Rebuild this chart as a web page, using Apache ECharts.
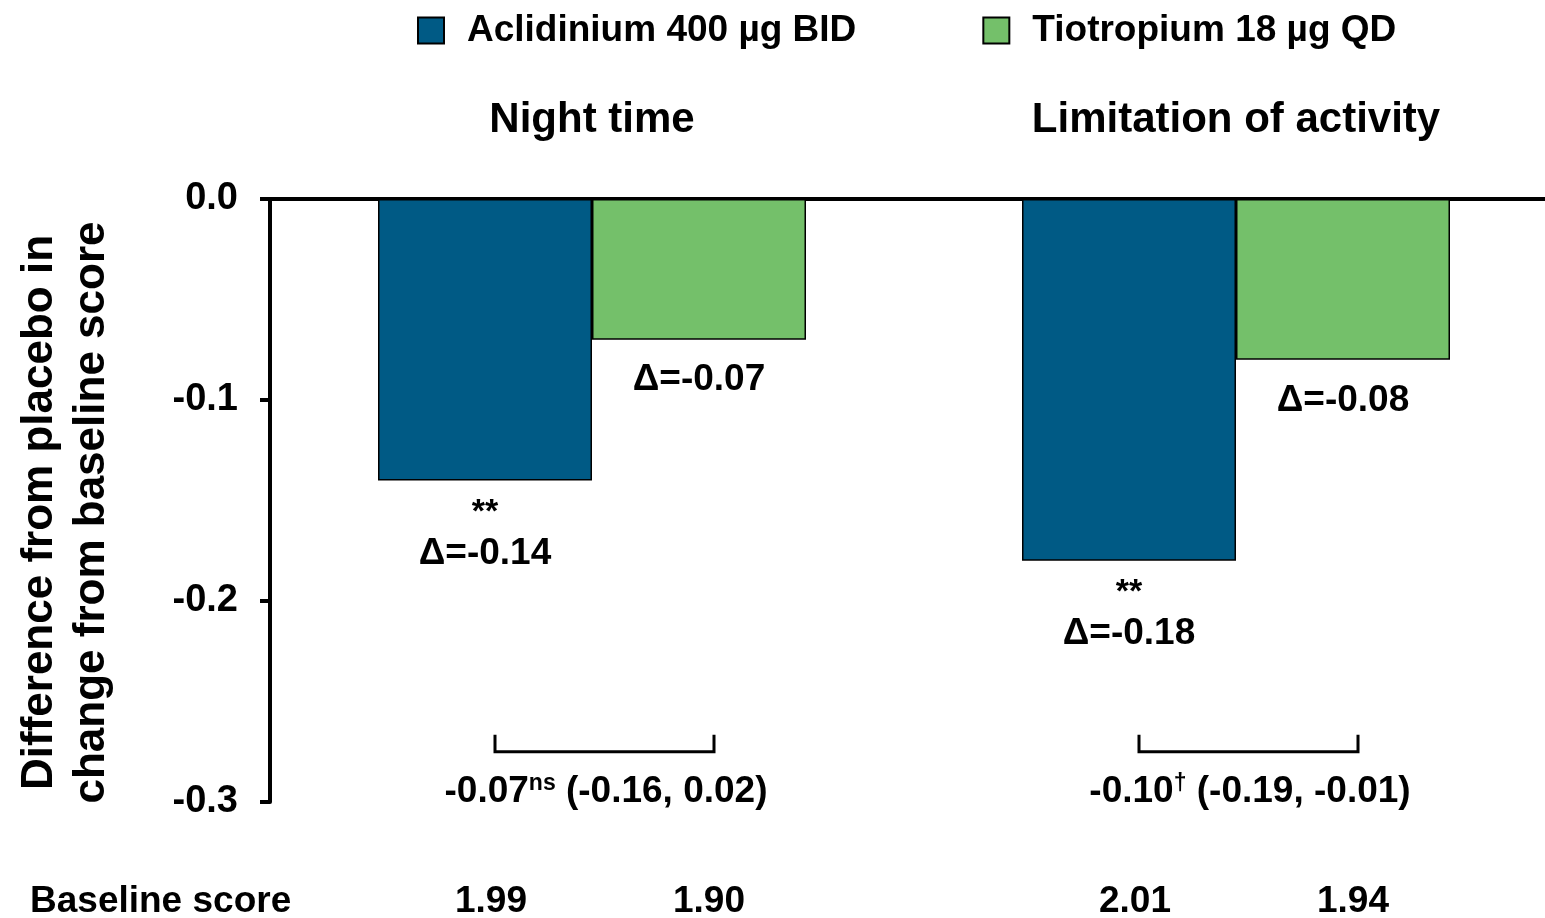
<!DOCTYPE html>
<html>
<head>
<meta charset="utf-8">
<script src="https://cdn.jsdelivr.net/npm/echarts@6/dist/echarts.min.js"></script>
<style>
html,body{margin:0;padding:0;background:#fff;}
#main{width:1545px;height:918px;}
</style>
</head>
<body>
<div id="main"></div>
<script>
// ---- data ----
var categories = ['Night time', 'Limitation of activity'];
var seriesNames = ['Aclidinium 400 µg BID', 'Tiotropium 18 µg QD'];
var aclidiniumValues = [-0.14, -0.18];
var tiotropiumValues = [-0.07, -0.08];
var aclidiniumLabels = ['Δ=-0.14', 'Δ=-0.18'];
var tiotropiumLabels = ['Δ=-0.07', 'Δ=-0.08'];
var aclidiniumSig = ['**', '**'];
var diffValues = ['-0.07', '-0.10'];
var diffMarks = ['ns', '†'];
var diffCI = ['(-0.16, 0.02)', '(-0.19, -0.01)'];
var baselineAclidinium = ['1.99', '2.01'];
var baselineTiotropium = ['1.90', '1.94'];
var baselineTitle = 'Baseline score';
var yTicks = { min: -0.3, max: 0, interval: 0.1 };
var yAxisName = 'Difference from placebo in\nchange from baseline score';

var FONT = '"Liberation Sans", Arial, sans-serif';
var BLUE = '#005a85';
var GREEN = '#74c06a';
var BAR_W = 214;

var chart = echarts.init(document.getElementById('main'));

chart.setOption({
  animation: false,
  textStyle: { fontFamily: FONT, fontWeight: 'bold', color: '#000' },
  legend: {
    left: 412, top: 7,
    itemWidth: 26, itemHeight: 26,
    itemGap: 126,
    icon: 'rect',
    itemStyle: { borderColor: '#000', borderWidth: 2 },
    textStyle: { fontFamily: FONT, fontWeight: 'bold', fontSize: 37, color: '#000', padding: [0, 0, 0, 18] },
    data: seriesNames
  },
  grid: { left: 270, top: 199, right: -13, bottom: 116, containLabel: false, outerBoundsMode: 'none' },
  xAxis: {
    type: 'category',
    position: 'top',
    data: categories,
    axisLine: { show: true, onZero: false, lineStyle: { color: '#000', width: 4 } },
    axisTick: { show: false },
    axisLabel: { fontFamily: FONT, fontWeight: 'bold', fontSize: 42, color: '#000', margin: 58 },
    splitLine: { show: false }
  },
  yAxis: {
    type: 'value',
    min: yTicks.min, max: yTicks.max, interval: yTicks.interval,
    name: yAxisName,
    nameLocation: 'middle',
    nameGap: 152,
    nameTextStyle: { fontFamily: FONT, fontWeight: 'bold', fontSize: 44, color: '#000', lineHeight: 52, padding: [0, 24, 0, 0] },
    axisLine: { show: true, lineStyle: { color: '#000', width: 4 } },
    axisTick: { show: true, length: 10, lineStyle: { color: '#000', width: 4 } },
    axisLabel: {
      fontFamily: FONT, fontWeight: 'bold', fontSize: 38, color: '#000', margin: 32,
      formatter: function (v) { return v.toFixed(1); }
    },
    splitLine: { show: false }
  },
  series: [
    {
      name: seriesNames[0], type: 'bar', data: aclidiniumValues,
      barWidth: BAR_W, barGap: '0%',
      itemStyle: { color: BLUE, borderColor: '#000', borderWidth: 1.5 },
      label: {
        show: true, position: 'bottom', distance: 12,
        formatter: function (p) { return '{s|' + aclidiniumSig[p.dataIndex] + '}\n{d|' + aclidiniumLabels[p.dataIndex] + '}'; },
        rich: {
          s: { fontFamily: FONT, fontWeight: 'bold', fontSize: 34, color: '#000', lineHeight: 40 },
          d: { fontFamily: FONT, fontWeight: 'bold', fontSize: 37, color: '#000', lineHeight: 42 }
        }
      }
    },
    {
      name: seriesNames[1], type: 'bar', data: tiotropiumValues,
      barWidth: BAR_W, barGap: '0%',
      itemStyle: { color: GREEN, borderColor: '#000', borderWidth: 1.5 },
      label: {
        show: true, position: 'bottom', distance: 22,
        formatter: function (p) { return tiotropiumLabels[p.dataIndex]; },
        fontFamily: FONT, fontWeight: 'bold', fontSize: 37, color: '#000'
      }
    }
  ]
});

// annotations placed through the chart's own coordinate system
function px(catIdx, val) { return chart.convertToPixel({ xAxisIndex: 0, yAxisIndex: 0 }, [catIdx, val]); }
var graphics = [];
var bracketVal = -0.275;
for (var i = 0; i < categories.length; i++) {
  var c = px(i, bracketVal);
  var cx = c[0], by = c[1];
  var x1 = cx - 97, x2 = cx + 122;
  graphics.push({
    type: 'polyline',
    shape: { points: [[x1, by - 17], [x1, by], [x2, by], [x2, by - 17]] },
    style: { stroke: '#000', lineWidth: 3, fill: null }
  });
  graphics.push({
    type: 'text', x: cx + 14, y: by + 40,
    style: {
      text: '{m|' + diffValues[i] + '}{s|' + diffMarks[i] + '}{m| ' + diffCI[i] + '}',
      align: 'center', verticalAlign: 'middle',
      rich: {
        m: { fontFamily: FONT, fontWeight: 'bold', fontSize: 37, fill: '#000', lineHeight: 40 },
        s: { fontFamily: FONT, fontWeight: 'bold', fontSize: 23, fill: '#000', lineHeight: 22, verticalAlign: 'top' }
      }
    }
  });
  var base = px(i, yTicks.min);
  var rowY = base[1] + 100;
  graphics.push({
    type: 'text', x: cx - BAR_W / 2 + 6, y: rowY,
    style: { text: baselineAclidinium[i], align: 'center', verticalAlign: 'middle',
      font: 'bold 37px ' + FONT, fill: '#000' }
  });
  graphics.push({
    type: 'text', x: cx + BAR_W / 2 + 10, y: rowY,
    style: { text: baselineTiotropium[i], align: 'center', verticalAlign: 'middle',
      font: 'bold 37px ' + FONT, fill: '#000' }
  });
}
var b0 = px(0, yTicks.min);
graphics.push({
  type: 'text', x: 30, y: b0[1] + 100,
  style: { text: baselineTitle, align: 'left', verticalAlign: 'middle', font: 'bold 37px ' + FONT, fill: '#000' }
});
chart.setOption({ graphic: graphics });
</script>
</body>
</html>
